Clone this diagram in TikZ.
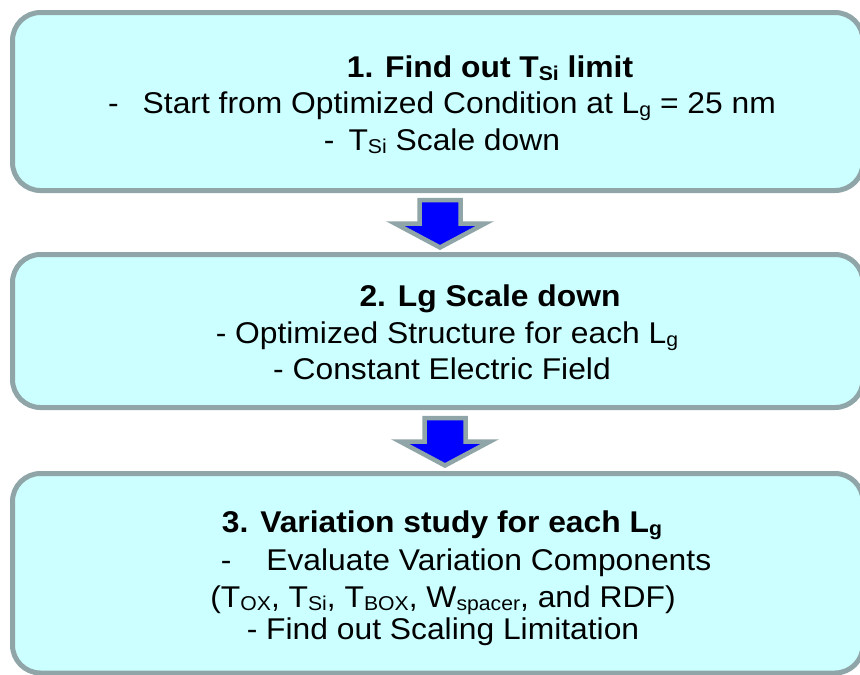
\documentclass[tikz,border=0pt]{standalone}
\usepackage{fontspec}
\setmainfont{Liberation Sans}[FakeStretch=1.06]
\usetikzlibrary{positioning,calc}
\definecolor{stagefill}{RGB}{204,255,255}
\definecolor{stageedge}{RGB}{143,165,168}
\definecolor{flowblue}{RGB}{0,0,255}
\newcommand{\lo}[1]{\raisebox{-0.1em}{\fontsize{20}{20}\selectfont #1}}

\begin{document}
\begin{tikzpicture}[x=1pt, y=-1pt,
  stage/.style={draw=stageedge, fill=stagefill, line width=5pt, rounded corners=28pt, inner sep=0pt},
  note/.style={font=\fontsize{30}{36}\selectfont, inner sep=0pt, anchor=base},
  head/.style={note, font=\bfseries\fontsize{30}{36}\selectfont},
  flow/.style={draw=stageedge, fill=flowblue, line width=4.5pt, line join=miter},
]
\useasboundingbox (0,0) rectangle (860,675);
\clip (0,0) rectangle (860,675);

% ==================================================== the three stages
\node[stage, minimum width=850.5pt, minimum height=178pt]   (tsi)       at (437.75,101.5)  {};
\node[stage, minimum width=850.5pt, minimum height=153pt]   (lgscale)   at (437.75,331)    {};
\node[stage, minimum width=850.5pt, minimum height=199.5pt] (variation) at (437.75,573.25) {};

% ==================================================== block arrows between them
\foreach \a/\b/\dx in {tsi/lgscale/2.25, lgscale/variation/7.25} {
  \coordinate (mid) at ($(\a.south)!.5!(\b.north)+(\dx,0)$);
  \draw[flow, shift={(mid)}] (-20.5,-22.5) -- (20.5,-22.5) -- (20.5,1) -- (45,1)
    -- (0,25) -- (-45,1) -- (-20.5,1) -- cycle;
}

% ==================================================== texts
\node[head] (h1)  at (490,77)  {1. Find out T\lo{Si} limit};
\node[note] (l1a) at (442,113) {-\hspace{24pt}Start from Optimized Condition at L\lo{g} = 25 nm};
\node[note] (l1b) at (442,150) {-\hspace{14pt}T\lo{Si} Scale down};

\node[head] (h2)  at (490,306) {2. Lg Scale down};
\node[note] (l2a) at (447,343) {- Optimized Structure for each L\lo{g}};
\node[note] (l2b) at (442,379) {- Constant Electric Field};

\node[head] (h3)  at (442,532) {3. Variation study for each L\lo{g}};
\node[note] (l3a) at (466,570) {-\hspace{35pt}Evaluate Variation Components};
\node[note] (l3b) at (443,607) {(T\lo{OX}, T\lo{Si}, T\lo{BOX}, W\lo{spacer}, and RDF)};
\node[note] (l3c) at (443,639) {- Find out Scaling Limitation};

\end{tikzpicture}
\end{document}
